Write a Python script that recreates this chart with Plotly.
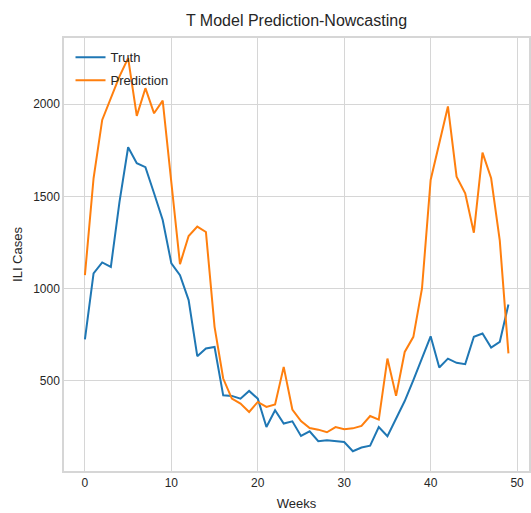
import plotly.graph_objects as go

weeks = list(range(50))
truth = [725, 1083, 1142, 1118, 1470, 1766, 1680, 1658, 1517, 1372,
         1137, 1073, 938, 634, 676, 684, 422, 419, 404, 446,
         404, 250, 341, 269, 281, 202, 227, 173, 178, 173,
         169, 119, 139, 149, 250, 200, 296, 391, 504, 627,
         742, 573, 621, 598, 591, 739, 757, 681, 712, 914]
prediction = [1073, 1598, 1914, 2030, 2150, 2249, 1936, 2086, 1950, 2019,
              1570, 1133, 1285, 1336, 1307, 793, 513, 404, 377, 332,
              386, 359, 372, 576, 345, 283, 245, 236, 222, 250,
              238, 243, 256, 310, 290, 621, 419, 657, 739, 1001,
              1589, 1788, 1987, 1607, 1517, 1303, 1737, 1598, 1260, 649]

fig = go.Figure()
fig.add_trace(go.Scatter(x=weeks, y=truth, mode="lines", name="Truth", legendgroup="a",
                         line=dict(color="#1f77b4", width=2)))
fig.add_trace(go.Scatter(x=weeks, y=prediction, mode="lines", name="Prediction", legendgroup="b",
                         line=dict(color="#ff7f0e", width=2)))

font_color = "#262626"
fig.update_layout(
    width=531, height=513,
    margin=dict(l=64, r=0, t=38, b=42),
    paper_bgcolor="white", plot_bgcolor="white",
    font=dict(family="Liberation Sans, Arial, sans-serif", color=font_color, size=12),
    title=dict(text="T Model Prediction-Nowcasting", x=0.5, xref="paper", xanchor="center",
               y=1 - 20 / 513, yref="container", yanchor="middle",
               font=dict(size=16, color=font_color)),
    showlegend=True,
    legend=dict(x=0.014, y=0.99, xanchor="left", yanchor="top", bgcolor="rgba(0,0,0,0)",
                font=dict(size=13, color=font_color), itemwidth=30,
                tracegroupgap=3, traceorder="grouped"),
    xaxis=dict(range=[-2.42, 51.38], tickvals=[0, 10, 20, 30, 40, 50],
               showgrid=True, gridcolor="#d6d6d6", gridwidth=1,
               showline=True, linecolor="#d6d6d6", linewidth=1.5, mirror=True,
               zeroline=False, ticks="", ticklen=0,
               title=dict(text="Weeks", font=dict(size=13, color=font_color), standoff=10)),
    yaxis=dict(range=[12, 2358], tickvals=[500, 1000, 1500, 2000],
               showgrid=True, gridcolor="#d6d6d6", gridwidth=1,
               showline=True, linecolor="#d6d6d6", linewidth=1.5, mirror=True,
               zeroline=False, ticks="", ticklen=0,
               title=dict(text="ILI Cases", font=dict(size=13, color=font_color), standoff=8)),
)

fig.write_html("out.html")
